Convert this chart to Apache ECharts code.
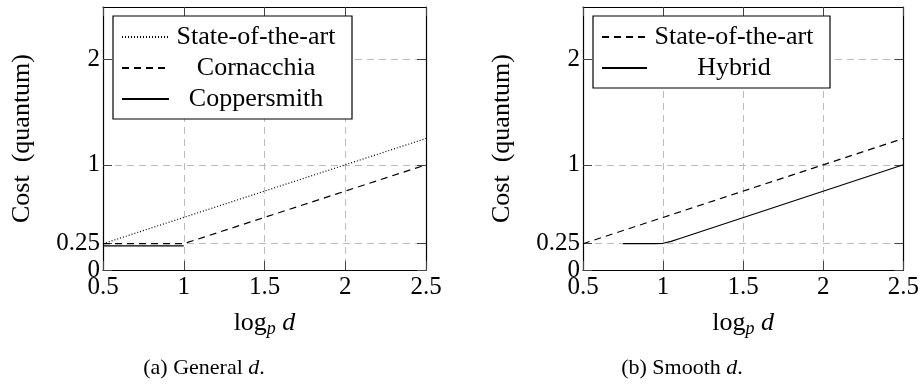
<!DOCTYPE html>
<html>
<head>
<meta charset="utf-8">
<script src="https://cdn.jsdelivr.net/npm/echarts@6/dist/echarts.min.js"></script>
<style>
  html, body { margin: 0; padding: 0; background: #fff; }
  #main { width: 922px; height: 385px; }
</style>
</head>
<body>
<div id="main"></div>
<script>
const FONT = 'Liberation Serif';

// axis ticks
const xTicks = [0.5, 1, 1.5, 2, 2.5];
const yTicks = [0, 0.25, 1, 2];

// (a) general d
const stateOfArtA = [[0.5, 0.25], [2.5, 1.25]];
const cornacchia = [[0.5, 0.25], [1, 0.25], [2.5, 1]];
const coppersmith = [[0.5, 0.23], [1, 0.23]];

// (b) smooth d
const stateOfArtB = [[0.5, 0.25], [2.5, 1.25]];
const hybrid = [[0.75, 0.25], [0.95, 0.25], [1, 0.254], [1.05, 0.272], [1.1, 0.297], [2.5, 1]];

const chart = echarts.init(document.getElementById('main'));

const tickStyle = { inside: true, length: 9, lineStyle: { color: '#444', width: 1 } };
const frame = { show: true, onZero: false, lineStyle: { color: '#000', width: 1.2 } };
const gridLine = { show: true, lineStyle: { color: '#bbb', width: 1, type: [7, 5] } };

function xAxes(gridIndex) {
    return [
        {
            gridIndex: gridIndex,
            type: 'value',
            min: xTicks[0], max: xTicks[xTicks.length - 1], interval: 0.5,
            axisLine: frame,
            axisTick: tickStyle,
            axisLabel: {
                color: '#000', fontFamily: FONT, fontSize: 25, margin: 5,
                showMinLabel: true, showMaxLabel: true,
                formatter: v => String(v)
            },
            splitLine: gridLine,
            name: '{a|log}{s|p}{a| }{i|d}',
            nameLocation: 'middle',
            nameGap: 38,
            nameTextStyle: {
                rich: {
                    a: { fontFamily: FONT, fontSize: 26, color: '#000' },
                    s: { fontFamily: FONT, fontSize: 18, fontStyle: 'italic', color: '#000', padding: [12, 0, 0, 0] },
                    i: { fontFamily: FONT, fontSize: 26, fontStyle: 'italic', color: '#000' }
                }
            }
        },
        {
            gridIndex: gridIndex,
            type: 'value',
            position: 'top',
            min: xTicks[0], max: xTicks[xTicks.length - 1], interval: 0.5,
            axisLine: frame,
            axisTick: tickStyle,
            axisLabel: { show: false },
            splitLine: { show: false }
        }
    ];
}

function yAxes(gridIndex) {
    return [
        {
            gridIndex: gridIndex,
            type: 'value',
            min: 0, max: 2.5,
            axisLine: frame,
            axisTick: Object.assign({ customValues: yTicks }, tickStyle),
            axisLabel: {
                customValues: yTicks,
                color: '#000', fontFamily: FONT, fontSize: 25, margin: 3,
                formatter: v => String(v)
            },
            splitLine: gridLine,
            name: 'Cost  (quantum)',
            nameLocation: 'middle',
            nameGap: 68,
            nameTextStyle: { fontFamily: FONT, fontSize: 26, color: '#000' }
        },
        {
            gridIndex: gridIndex,
            type: 'value',
            position: 'right',
            min: 0, max: 2.5,
            axisLine: frame,
            axisTick: Object.assign({ customValues: yTicks }, tickStyle),
            axisLabel: { show: false },
            splitLine: { show: false }
        }
    ];
}

function legendBox(left, names, iconWidth) {
    return {
        left: left, top: 16,
        orient: 'vertical',
        data: names,
        padding: [8, 14, 7, 8],
        itemGap: 5,
        itemWidth: iconWidth,
        itemHeight: 14,
        itemTextGap: 6,
        borderColor: '#000',
        borderWidth: 1.2,
        borderRadius: 0,
        backgroundColor: '#fff',
        selectedMode: false,
        itemStyle: { opacity: 0 },
        formatter: name => '{c|' + name.trim() + '}',
        textStyle: {
            rich: {
                c: { width: 164, align: 'center', fontFamily: FONT, fontSize: 26, lineHeight: 26, color: '#000' }
            }
        }
    };
}

function line(name, data, xi, yi, type) {
    return {
        name: name,
        type: 'line',
        xAxisIndex: xi,
        yAxisIndex: yi,
        data: data,
        symbol: 'none',
        smooth: false,
        lineStyle: { color: '#000', width: 1.2, type: type },
        itemStyle: { color: '#000' }
    };
}

const captionRich = {
    a: { fontFamily: FONT, fontSize: 22, color: '#000' },
    i: { fontFamily: FONT, fontSize: 22, fontStyle: 'italic', color: '#000' }
};

chart.setOption({
    animation: false,
    backgroundColor: '#fff',
    grid: [
        { left: 103, right: 496, top: 7, bottom: 115 },
        { left: 583, right: 16, top: 7, bottom: 115 }
    ],
    xAxis: xAxes(0).concat(xAxes(1)),
    yAxis: yAxes(0).concat(yAxes(1)),
    legend: [
        legendBox(113, ['State-of-the-art', 'Cornacchia', 'Coppersmith'], 47),
        legendBox(593, ['State-of-the-art ', 'Hybrid'], 45)
    ],
    series: [
        line('State-of-the-art', stateOfArtA, 0, 0, [1, 2]),
        line('Cornacchia', cornacchia, 0, 0, [7, 5]),
        line('Coppersmith', coppersmith, 0, 0, 'solid'),
        line('State-of-the-art ', stateOfArtB, 2, 2, [7, 5]),
        line('Hybrid', hybrid, 2, 2, 'solid')
    ],
    graphic: [
        {
            type: 'text', x: 204, y: 368,
            style: { text: '{a|(a) General }{i|d}{a|.}', rich: captionRich, align: 'center', verticalAlign: 'middle' }
        },
        {
            type: 'text', x: 682, y: 368,
            style: { text: '{a|(b) Smooth }{i|d}{a|.}', rich: captionRich, align: 'center', verticalAlign: 'middle' }
        }
    ]
});
</script>
</body>
</html>
